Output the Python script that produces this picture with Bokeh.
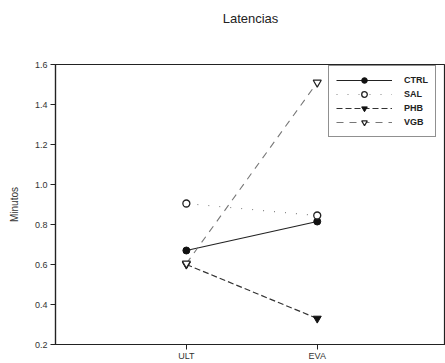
from bokeh.plotting import figure
from bokeh.models import Range1d, FixedTicker, Legend, LegendItem, NumeralTickFormatter, Title
from bokeh.embed import file_html
from bokeh.resources import INLINE

categories = ["ULT", "EVA"]
ctrl = [0.67, 0.815]
sal = [0.905, 0.845]
phb = [0.60, 0.33]
vgb = [0.605, 1.51]
y_ticks = [0.2, 0.4, 0.6, 0.8, 1.0, 1.2, 1.4, 1.6]

xs = [i + 1 for i in range(len(categories))]

p = figure(width=445, height=363, output_backend="svg", toolbar_location=None,
           x_range=Range1d(0, 2.98), y_range=Range1d(0.2, 1.6),
           min_border_left=55, min_border_right=0, min_border_top=64, min_border_bottom=16)
p.title = None

spacer = Title(text=" ", text_font_size="33px", standoff=0)
p.add_layout(spacer, "above")
main_title = Title(text="Latencias", align="center", text_font="Liberation Sans",
                   text_font_size="13px", text_font_style="normal", text_color="#222222",
                   standoff=0)
p.add_layout(main_title, "above")

p.xgrid.visible = False
p.ygrid.visible = False
p.outline_line_color = "#222222"
p.outline_line_width = 1.2
p.background_fill_color = "white"
p.border_fill_color = "white"

FONT = "Liberation Sans"
for ax in (p.xaxis[0], p.yaxis[0]):
    ax.axis_line_color = "#222222"
    ax.axis_line_width = 1.2
    ax.major_tick_line_color = "#222222"
    ax.major_tick_out = 5
    ax.major_tick_in = 0
    ax.minor_tick_line_color = None
    ax.major_label_text_font = FONT
    ax.major_label_text_font_size = "9px"
    ax.major_label_text_color = "#333333"
    ax.major_label_standoff = 3

p.xaxis.major_label_standoff = 1
p.xaxis.ticker = FixedTicker(ticks=xs)
p.xaxis.major_label_overrides = {x: c for x, c in zip(xs, categories)}
p.yaxis.ticker = FixedTicker(ticks=y_ticks)
p.yaxis.formatter = NumeralTickFormatter(format="0.0")
p.yaxis.axis_label = "Minutos"
p.yaxis.axis_label_text_font = FONT
p.yaxis.axis_label_text_font_size = "10px"
p.yaxis.axis_label_text_font_style = "normal"
p.yaxis.axis_label_text_color = "#333333"
p.yaxis.axis_label_standoff = 12

# Lines
l_ctrl = p.line(xs, ctrl, line_color="#222222", line_width=1.2)
m_ctrl = p.scatter(xs, ctrl, marker="circle", size=7, fill_color="#111111", line_color="#111111")

l_sal = p.line(xs, sal, line_color="#888888", line_width=1.2, line_dash="1 10")
m_sal = p.scatter(xs, sal, marker="circle", size=7, fill_color="white", line_color="#222222", line_width=1.3)

l_phb = p.line(xs, phb, line_color="#333333", line_width=1.2, line_dash="6 3")
m_phb = p.scatter(xs, phb, marker="inverted_triangle", size=8, fill_color="#111111", line_color="#111111")

l_vgb = p.line(xs, vgb, line_color="#777777", line_width=1.1, line_dash="7 6")
m_vgb = p.scatter(xs, vgb, marker="inverted_triangle", size=8, fill_color="white", line_color="#222222", line_width=1.2)

legend = Legend(items=[
    LegendItem(label="CTRL", renderers=[l_ctrl, m_ctrl]),
    LegendItem(label="SAL", renderers=[l_sal, m_sal]),
    LegendItem(label="PHB", renderers=[l_phb, m_phb]),
    LegendItem(label="VGB", renderers=[l_vgb, m_vgb]),
], location=(273, 207))
legend.glyph_width = 56
legend.glyph_height = 14
legend.label_height = 14
legend.spacing = 0
legend.padding = 7
legend.margin = 0
legend.label_standoff = 12
legend.label_text_font = FONT
legend.label_text_font_size = "9px"
legend.label_text_font_style = "bold"
legend.label_text_color = "#222222"
legend.border_line_color = "#222222"
legend.border_line_width = 1.2
legend.background_fill_color = "white"
legend.background_fill_alpha = 1
p.add_layout(legend)

open("out.html", "w").write(file_html(p, INLINE))
